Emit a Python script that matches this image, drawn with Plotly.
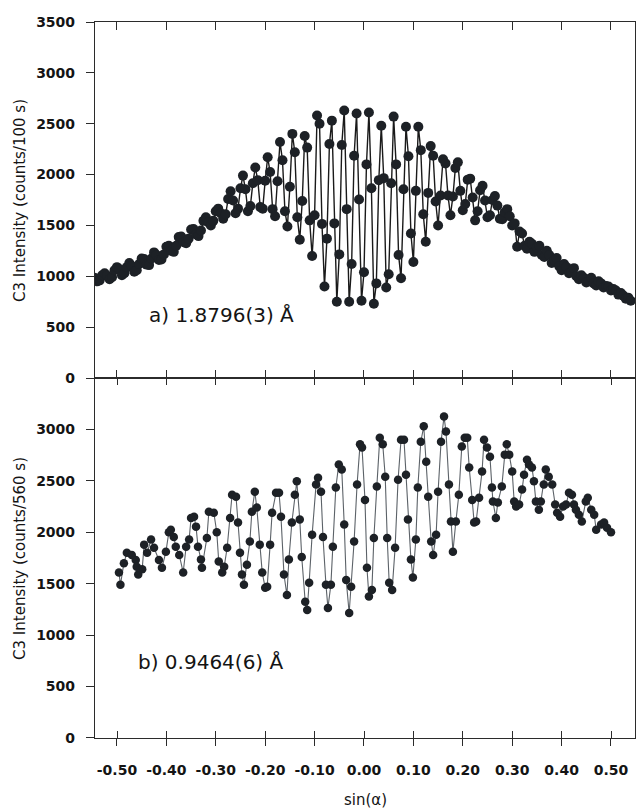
import plotly.graph_objects as go

# ---------------- data ----------------
TOP_SIN_A = [
    -0.545, -0.540, -0.535, -0.530, -0.525, -0.520, -0.515, -0.510, -0.505, -0.500,
    -0.495, -0.490, -0.485, -0.480, -0.475, -0.470, -0.465, -0.460, -0.455, -0.450,
    -0.445, -0.440, -0.435, -0.430, -0.425, -0.420, -0.415, -0.410, -0.405, -0.400,
    -0.395, -0.390, -0.385, -0.380, -0.375, -0.370, -0.365, -0.360, -0.355, -0.350,
    -0.345, -0.340, -0.335, -0.330, -0.325, -0.320, -0.315, -0.310, -0.305, -0.300,
    -0.295, -0.290, -0.285, -0.280, -0.275, -0.270, -0.265, -0.260, -0.255, -0.250,
    -0.245, -0.240, -0.235, -0.230, -0.225, -0.220, -0.215, -0.210, -0.205, -0.200,
    -0.195, -0.190, -0.185, -0.180, -0.175, -0.170, -0.165, -0.160, -0.155, -0.150,
    -0.145, -0.140, -0.135, -0.130, -0.125, -0.120, -0.115, -0.110, -0.105, -0.100,
    -0.095, -0.090, -0.085, -0.080, -0.075, -0.070, -0.065, -0.060, -0.055, -0.050,
    -0.045, -0.040, -0.035, -0.030, -0.025, -0.020, -0.015, -0.010, -0.005, 0.000,
    0.005, 0.010, 0.015, 0.020, 0.025, 0.030, 0.035, 0.040, 0.045, 0.050,
    0.055, 0.060, 0.065, 0.070, 0.075, 0.080, 0.085, 0.090, 0.095, 0.100,
    0.105, 0.110, 0.115, 0.120, 0.125, 0.130, 0.135, 0.140, 0.145, 0.150,
    0.155, 0.160, 0.165, 0.170, 0.175, 0.180, 0.185, 0.190, 0.195, 0.200,
    0.205, 0.210, 0.215, 0.220, 0.225, 0.230, 0.235, 0.240, 0.245, 0.250,
    0.255, 0.260, 0.265, 0.270, 0.275, 0.280, 0.285, 0.290, 0.295, 0.300,
    0.305, 0.310, 0.315, 0.320, 0.325, 0.330, 0.335, 0.340, 0.345, 0.350,
    0.355, 0.360, 0.365, 0.370, 0.375, 0.380, 0.385, 0.390, 0.395, 0.400,
    0.405, 0.410, 0.415, 0.420, 0.425, 0.430, 0.435, 0.440, 0.445, 0.450,
    0.455, 0.460, 0.465, 0.470, 0.475, 0.480, 0.485, 0.490, 0.495, 0.500,
    0.505, 0.510, 0.515, 0.520, 0.525, 0.530, 0.535, 0.540,
]
TOP_C3 = [
    985, 950, 960, 1010, 1030, 1005, 970, 990, 1060, 1090,
    1070, 1010, 1030, 1090, 1130, 1100, 1045, 1060, 1120, 1175,
    1170, 1115, 1110, 1175, 1235, 1210, 1160, 1165, 1215, 1290,
    1300, 1250, 1240, 1300, 1385, 1390, 1335, 1325, 1370, 1460,
    1465, 1410, 1395, 1450, 1545, 1580, 1530, 1500, 1545, 1640,
    1665, 1620, 1565, 1610, 1760, 1835, 1745, 1620, 1665, 1865,
    1990, 1855, 1640, 1690, 1915, 2070, 1945, 1680, 1665, 1940,
    2170, 2025, 1660, 1590, 1935, 2320, 2140, 1640, 1490, 1880,
    2400, 2220, 1580, 1360, 1740, 2380, 2265, 1550, 1200, 1600,
    2580, 2500, 1515, 900, 1370, 2300, 2530, 1520, 750, 1215,
    2290, 2630, 1660, 750, 1120, 2185, 2600, 1755, 760, 1040,
    2100, 2610, 1865, 730, 930, 1945, 2480, 1965, 890, 1020,
    1915, 2570, 2100, 1210, 980, 1855, 2470, 2180, 1420, 1140,
    1840, 2470, 2240, 1610, 1340, 1820, 2280, 2185, 1735, 1500,
    1795, 2150, 2110, 1795, 1600, 1785, 2065, 2120, 1840, 1650,
    1710, 1950, 1960, 1775, 1550, 1640, 1845, 1890, 1745, 1580,
    1600, 1750, 1790, 1695, 1565, 1560, 1630, 1660, 1590, 1500,
    1520, 1290, 1440, 1420, 1300, 1270, 1340, 1320, 1240, 1280,
    1300, 1210, 1190, 1250, 1210, 1130, 1160, 1180, 1100, 1060,
    1120, 1090, 1030, 1040, 1080, 1000, 970, 1010, 985, 940,
    950, 985, 930, 910, 950, 930, 890, 905, 900, 860,
    875, 860, 820, 835, 810, 780, 790, 760,
]

BOT_SIN_A = [
    -0.496, -0.493, -0.486, -0.480, -0.470, -0.462, -0.460, -0.457, -0.449, -0.445,
    -0.439, -0.431, -0.425, -0.415, -0.409, -0.401, -0.395, -0.391, -0.385, -0.381,
    -0.374, -0.366, -0.360, -0.354, -0.350, -0.344, -0.340, -0.336, -0.330, -0.328,
    -0.318, -0.314, -0.304, -0.298, -0.294, -0.287, -0.283, -0.277, -0.271, -0.267,
    -0.259, -0.255, -0.251, -0.247, -0.243, -0.237, -0.231, -0.227, -0.221, -0.217,
    -0.211, -0.206, -0.200, -0.196, -0.190, -0.186, -0.178, -0.172, -0.168, -0.162,
    -0.156, -0.152, -0.146, -0.140, -0.136, -0.130, -0.126, -0.119, -0.115, -0.111,
    -0.105, -0.097, -0.093, -0.087, -0.083, -0.077, -0.073, -0.067, -0.063, -0.057,
    -0.051, -0.045, -0.040, -0.036, -0.030, -0.026, -0.020, -0.014, -0.008, -0.004,
    0.002, 0.006, 0.010, 0.016, 0.020, 0.026, 0.032, 0.038, 0.043, 0.047,
    0.051, 0.057, 0.063, 0.069, 0.075, 0.081, 0.085, 0.089, 0.095, 0.099,
    0.105, 0.109, 0.115, 0.121, 0.126, 0.130, 0.136, 0.140, 0.146, 0.150,
    0.156, 0.162, 0.166, 0.172, 0.176, 0.180, 0.186, 0.192, 0.198, 0.204,
    0.209, 0.213, 0.219, 0.223, 0.227, 0.233, 0.239, 0.243, 0.249, 0.255,
    0.259, 0.261, 0.267, 0.271, 0.279, 0.285, 0.289, 0.294, 0.300, 0.304,
    0.308, 0.314, 0.320, 0.324, 0.330, 0.334, 0.340, 0.344, 0.348, 0.354,
    0.358, 0.364, 0.368, 0.374, 0.381, 0.387, 0.391, 0.397, 0.403, 0.409,
    0.415, 0.421, 0.425, 0.429, 0.435, 0.441, 0.449, 0.453, 0.460, 0.466,
    0.470, 0.480, 0.486, 0.492, 0.500,
]
BOT_C3 = [
    1610, 1490, 1700, 1800, 1780, 1730, 1665, 1590, 1640, 1880,
    1800, 1930, 1850, 1730, 1655, 1810, 2000, 2025, 1955, 1860,
    1780, 1610, 1860, 1930, 2140, 2150, 2055, 1860, 1735, 1655,
    1945, 2200, 2190, 2000, 1715, 1610, 1665, 1850, 2140, 2365,
    2345, 2095, 1800, 1590, 1490, 1685, 1910, 2200, 2395, 2240,
    1880, 1610, 1460, 1470, 1880, 2190, 2385, 2385, 2150, 1590,
    1390, 1735, 2095, 2365, 2495, 2125, 1760, 1325, 1245, 1510,
    1975, 2465, 2530, 2395, 1955, 1490, 1265, 1490, 1860, 2435,
    2660, 2610, 2075, 1535, 1215, 1470, 1910, 2465, 2855, 2825,
    2315, 1655, 1375, 1440, 1945, 2445, 2920, 2855, 2540, 1945,
    1510, 1440, 1850, 2510, 2900, 2900, 2560, 2125, 1735, 1560,
    1930, 2435, 2880, 3030, 2685, 2345, 1910, 1780, 1975, 2395,
    2880, 3125, 2980, 2465, 2105, 1810, 2105, 2365, 2835, 2920,
    2920, 2630, 2315, 2095, 2105, 2335, 2590, 2900, 2825, 2735,
    2435, 2300, 2140, 2290, 2445, 2755, 2855, 2755, 2590, 2300,
    2250, 2270, 2415, 2560, 2705, 2660, 2630, 2495, 2300, 2220,
    2300, 2465, 2610, 2540, 2465, 2270, 2190, 2150, 2250, 2270,
    2385, 2365, 2270, 2220, 2170, 2105, 2300, 2335, 2220, 2170,
    2025, 2075, 2095, 2045, 2000,
]

X_TICKS = [-0.5, -0.4, -0.3, -0.2, -0.1, 0.0, 0.1, 0.2, 0.3, 0.4, 0.5]
X_TICK_TEXT = ["-0.50", "-0.40", "-0.30", "-0.20", "-0.10", "0.00",
               "0.10", "0.20", "0.30", "0.40", "0.50"]
TOP_Y_TICKS = [0, 500, 1000, 1500, 2000, 2500, 3000, 3500]
TOP_Y_TEXT = ["0", "500", "1000", "1500", "2000", "2500", "3000", "3500"]
BOT_Y_TICKS = [0, 500, 1000, 1500, 2000, 2500, 3000]
BOT_Y_TEXT = ["0", "500", "1000", "1500", "2000", "2500", "3000"]

TOP_TITLE = "C3 Intensity (counts/100 s)"
BOT_TITLE = "C3 Intensity (counts/560 s)"
X_TITLE = "sin(\u03b1)"
TOP_LABEL = "a) 1.8796(3) \u00c5"
BOT_LABEL = "b) 0.9464(6) \u00c5"

# ---------------- styling ----------------
FONT = "DejaVu Sans"
TXT = "#141414"
AX = "#2b2b2b"
DOT = "#1d2126"
X_RANGE = [-0.5445, 0.5486]
Y_RANGE = [0, 3500]
SPLIT = 0.5028
# minor ticks sit (practically) on the major ones so the bottom ticks cross the line
X_MINOR = [v + 0.0004 for v in X_TICKS]

fig = go.Figure()
fig.add_trace(go.Scatter(
    x=TOP_SIN_A, y=TOP_C3, xaxis="x", yaxis="y", mode="lines+markers",
    line=dict(color="#1a1a1a", width=1.4),
    marker=dict(size=10, color=DOT), hoverinfo="skip"))
fig.add_trace(go.Scatter(
    x=BOT_SIN_A, y=BOT_C3, xaxis="x2", yaxis="y2", mode="lines+markers",
    line=dict(color="#5c6268", width=1.1),
    marker=dict(size=8.5, color=DOT), hoverinfo="skip"))

base = dict(showline=True, linecolor=AX, linewidth=1.2, showgrid=False,
            zeroline=False, tickcolor=AX, tickwidth=1.2)
tickfont = dict(family=FONT, size=14, color=TXT, weight="bold")

fig.update_layout(
    width=638, height=810,
    margin=dict(l=95, r=3, t=22, b=72),
    paper_bgcolor="white", plot_bgcolor="white",
    showlegend=False,
    xaxis=dict(base, domain=[0, 1], anchor="y", range=X_RANGE,
               tickvals=X_TICKS, ticks="inside", ticklen=8, mirror="ticks",
               showticklabels=False),
    yaxis=dict(base, domain=[SPLIT, 1], anchor="x", range=Y_RANGE,
               tickvals=TOP_Y_TICKS, ticktext=TOP_Y_TEXT, ticks="outside",
               ticklen=8, mirror=True, tickfont=tickfont, ticklabelstandoff=8),
    xaxis2=dict(base, domain=[0, 1], anchor="y2", range=X_RANGE,
                tickvals=X_TICKS, ticktext=X_TICK_TEXT, ticks="outside",
                ticklen=7, mirror="ticks", tickfont=tickfont,
                ticklabelstandoff=12,
                minor=dict(tickvals=X_MINOR, ticks="inside", ticklen=7,
                           tickcolor=AX, tickwidth=1.2, showgrid=False)),
    yaxis2=dict(base, domain=[0, SPLIT], anchor="x2", range=Y_RANGE,
                tickvals=BOT_Y_TICKS, ticktext=BOT_Y_TEXT, ticks="outside",
                ticklen=8, mirror=True, tickfont=tickfont, ticklabelstandoff=8),
)

fig.add_annotation(text=TOP_TITLE, xref="paper", yref="paper",
                   x=-0.139, y=(SPLIT + 1) / 2, textangle=-90,
                   showarrow=False, xanchor="center", yanchor="middle",
                   font=dict(family=FONT, size=15, color=TXT))
fig.add_annotation(text=BOT_TITLE, xref="paper", yref="paper",
                   x=-0.139, y=SPLIT / 2, textangle=-90,
                   showarrow=False, xanchor="center", yanchor="middle",
                   font=dict(family=FONT, size=15, color=TXT))
fig.add_annotation(text=X_TITLE, xref="paper", yref="paper",
                   x=0.5, y=-0.0866, showarrow=False,
                   xanchor="center", yanchor="middle",
                   font=dict(family=FONT, size=15, color=TXT))
fig.add_annotation(text=TOP_LABEL, xref="x", yref="y", x=-0.439, y=620,
                   showarrow=False, xanchor="left", yanchor="middle",
                   font=dict(family=FONT, size=20, color=TXT))
fig.add_annotation(text=BOT_LABEL, xref="x2", yref="y2", x=-0.4615, y=740,
                   showarrow=False, xanchor="left", yanchor="middle",
                   font=dict(family=FONT, size=20, color=TXT))

fig.write_html("out.html",
               config={"displayModeBar": False},
               post_script="document.body.style.margin='0';"
                           "document.body.style.padding='0';")
